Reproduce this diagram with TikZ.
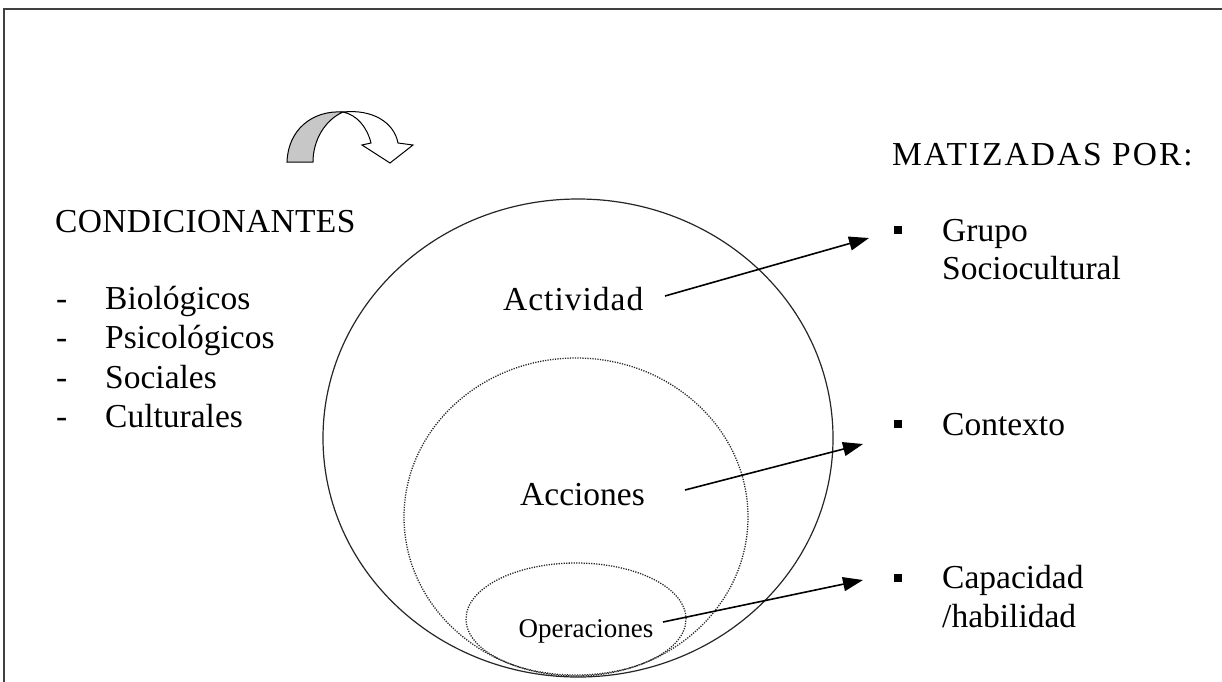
\documentclass[tikz,border=0pt]{standalone}
\usepackage{fontspec}
\setmainfont{Liberation Serif}
\usetikzlibrary{arrows.meta}
\begin{document}
\begin{tikzpicture}[x=1pt,y=-1pt,
  txt/.style={anchor=base west,inner sep=0pt,font=\fontsize{33.5}{38}\selectfont},
  small/.style={anchor=base,inner sep=0pt,font=\fontsize{27}{30}\selectfont},
  bullet/.style={fill=black,minimum size=8pt,inner sep=0pt},
  conn/.style={line width=1.6pt,-{Triangle[length=20pt,width=14pt]}},
  dotline/.style={line width=1.3pt,dash pattern=on 1.2pt off 1.3pt,draw=black!85}]
\useasboundingbox (0,0) rectangle (1222,681);
\fill[white] (0,0) rectangle (1222,681);
% frame
\draw[line width=1.6pt,draw=black!75] (4,690) -- (4,9) -- (1230,9);
% curved arrow
\draw[line width=1pt,fill=black!22] (287,162) .. controls (288,130) and (312,110) .. (343,112)
  .. controls (325,120) and (313,140) .. (313,162) -- cycle;
\draw[line width=1pt,fill=white] (343,112) .. controls (372,109) and (394,122) .. (398,143)
  -- (413,145) -- (390,163) -- (362,145) -- (371,143)
  .. controls (367,127) and (357,115) .. (343,112) -- cycle;
% ellipses
\draw[line width=1.2pt,draw=black!85] (578,438) ellipse [x radius=255pt, y radius=239pt];
\draw[dotline] (576,517) ellipse [x radius=172pt, y radius=159pt];
\draw[dotline] (576,619) ellipse [x radius=110pt, y radius=56pt];
% left texts
\node[txt] (cond) at (55,232) {\addfontfeature{LetterSpace=1}CONDICIONANTES};
\node[txt] (d1) at (56,309) {-};
\node[txt] (d2) at (56,348) {-};
\node[txt] (d3) at (56,388) {-};
\node[txt] (d4) at (56,427) {-};
\node[txt] (bio) at (105,309) {Biológicos};
\node[txt] (psi) at (105,348) {Psicológicos};
\node[txt] (soc) at (105,388) {Sociales};
\node[txt] (cul) at (105,427) {Culturales};
% inner texts
\node[txt] (act) at (503,310) {\addfontfeature{LetterSpace=3}Actividad};
\node[txt] (acc) at (520,505) {Acciones};
\node[small] (ope) at (586,637) {Operaciones};
% right texts
\node[txt] (mat) at (892,165) {\addfontfeature{LetterSpace=6}MATIZADAS POR:};
\node[bullet] (b1) at (898,230) {};
\node[bullet] (b2) at (898,424) {};
\node[bullet] (b3) at (898,578) {};
\node[txt] (gru) at (942,241) {Grupo};
\node[txt] (soci) at (942,279) {Sociocultural};
\node[txt] (ctx) at (942,435) {Contexto};
\node[txt] (cap) at (942,588) {Capacidad};
\node[txt] (hab) at (942,627) {/habilidad};
% connectors
\coordinate (s1) at (665,296);
\coordinate (e1) at (869,238);
\coordinate (s2) at (685,490);
\coordinate (e2) at (863,444);
\coordinate (s3) at (663,622);
\coordinate (e3) at (863,580);
\draw[conn] (s1) -- (e1);
\draw[conn] (s2) -- (e2);
\draw[conn] (s3) -- (e3);
\end{tikzpicture}
\end{document}
